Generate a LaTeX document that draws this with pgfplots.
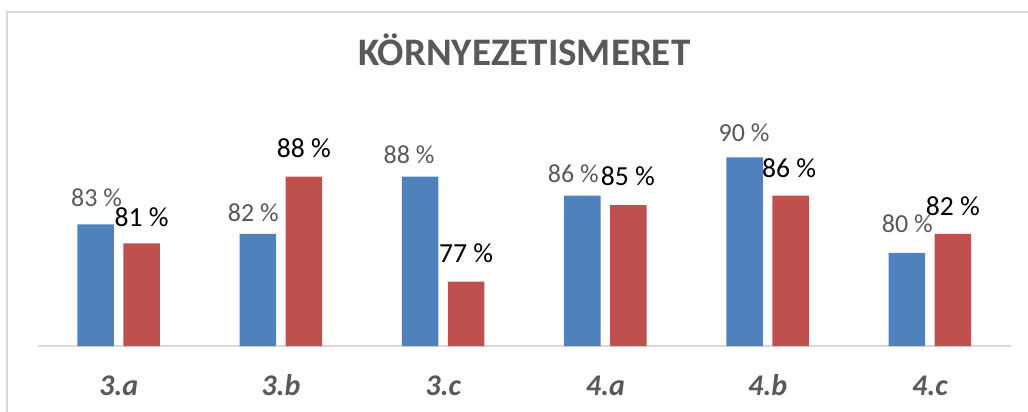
\documentclass[border=0pt]{standalone}
\usepackage{fontspec}
\setmainfont{Carlito}
\usepackage{pgfplots}
\pgfplotsset{compat=1.18}
\usepackage{pgfplotstable}
\definecolor{cblue}{HTML}{4F81BD}
\definecolor{cred}{HTML}{C0504D}
\definecolor{txtgray}{HTML}{595959}
\definecolor{linegray}{HTML}{D9D9D9}

\pgfplotstableread{
x y dx dy
0 83 1 18
1 82 -4.5 12
2 88 -11 13
3 86 -9 13
4 90 -0.5 16
5 80 0.5 20
}\bluedata
\pgfplotstableread{
x y dx dy
0 81 0 17
1 88 0 19
2 77 0 19
3 85 -0.5 20
4 86 -1.5 18
5 82 0 18
}\reddata

\begin{document}
\begin{tikzpicture}
\useasboundingbox (0,0) rectangle (514pt,206pt);
\draw[linegray, line width=1pt] (3.5pt,-10pt) -- (3.5pt,200pt) -- (600pt,200pt);
\begin{axis}[
 at={(18.75pt,33pt)}, anchor=south west,
 scale only axis, width=486.75pt, height=142pt,
 xmin=-0.5, xmax=5.5, ymin=70.25, ymax=100,
 enlargelimits=false,
 axis x line=bottom, axis y line=none,
 x axis line style={-, draw=linegray, line width=1pt},
 xtick={0,...,5}, xticklabels={3.a,3.b,3.c,4.a,4.b,4.c},
 major tick length=0pt,
 xticklabel style={font=\fontsize{15}{18}\selectfont\bfseries\itshape, text=txtgray, anchor=base, yshift=-24.5pt},
 ybar, bar width=18.25pt,
 title={KÖRNYEZETISMERET},
 title style={font=\fontsize{19.5}{23}\selectfont\bfseries, text=txtgray, at={(0.5,0)}, anchor=base, yshift=134pt},
 clip=true,
 visualization depends on={\thisrow{dx} \as \dx},
 visualization depends on={\thisrow{dy} \as \dy},
 nodes near coords={\pgfmathprintnumber[assume math mode=true]{\pgfplotspointmeta}~\%},
 every node near coord/.append style={anchor=base, inner sep=0pt, xshift={\dx*0.5pt}, yshift={\dy*0.5pt}},
]
\addplot[fill=cblue, draw=none, bar shift=-11.5pt, nodes near coords style={text=txtgray, font=\fontsize{13}{15}\selectfont}] table[x=x,y=y] {\bluedata};
\addplot[fill=cred, draw=none, bar shift=11.5pt, nodes near coords style={text=black, font=\fontsize{13.8}{16}\selectfont}] table[x=x,y=y] {\reddata};
\end{axis}
\end{tikzpicture}
\end{document}
